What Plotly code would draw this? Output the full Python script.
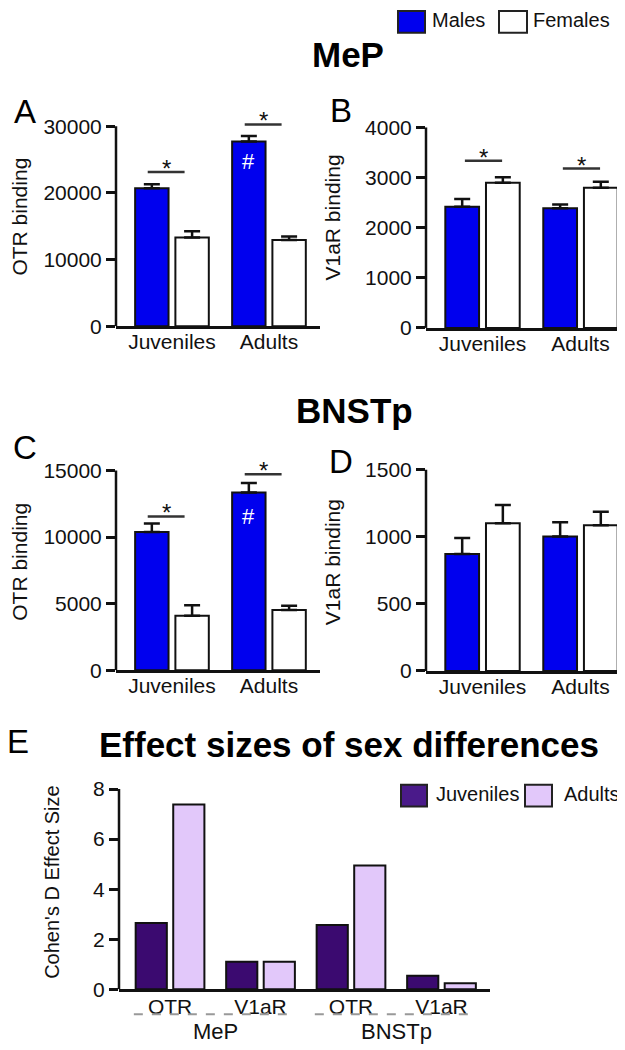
import plotly.graph_objects as go

# ---------------- data ----------------
groups = ["Juveniles", "Adults"]

# A: MeP OTR binding
a_males = [20700, 27700]
a_males_err = [600, 850]
a_females = [13300, 12950]
a_females_err = [950, 500]
a_sig = [23150, 30270]

# B: MeP V1aR binding
b_males = [2420, 2390]
b_males_err = [150, 75]
b_females = [2895, 2795]
b_females_err = [110, 120]
b_sig = [3337, 3179]

# C: BNSTp OTR binding
c_males = [10370, 13350]
c_males_err = [650, 700]
c_females = [4090, 4520]
c_females_err = [800, 320]
c_sig = [11550, 14703]

# D: BNSTp V1aR binding
d_males = [873, 1003]
d_males_err = [118, 105]
d_females = [1102, 1087]
d_females_err = [135, 100]

# E: effect sizes
e_receptors = ["OTR", "V1aR", "OTR", "V1aR"]
e_regions = ["MeP", "BNSTp"]
e_juveniles = [2.65, 1.1, 2.57, 0.54]
e_adults = [7.38, 1.1, 4.95, 0.24]

# ---------------- style ----------------
W, H = 625, 1050
FONT = "Liberation Sans"
INK = "#111111"
BLUE = "#0000ee"
PURPLE = "#3b0a70"
LAVENDER = "#e2c8fa"


def fx(px):
    return px / W


def fy(py):
    return 1 - py / H


fig = go.Figure()
shapes = []
annotations = []
layout_axes = {}


def bar_panel(n, males, males_err, females, females_err, xdom, ydom, yrange,
              tickvals, axis_top, ytitle, standoff, sig=None, sig_off=(-0.25, 0.13),
              hash_y=None):
    xa = "x" if n == 1 else f"x{n}"
    ya = "y" if n == 1 else f"y{n}"
    for vals, errs, col in ((males, males_err, BLUE), (females, females_err, "white")):
        fig.add_trace(go.Bar(
            x=groups, y=vals, xaxis=xa, yaxis=ya, showlegend=False,
            marker=dict(color=col, line=dict(color=INK, width=2)),
            error_y=dict(type="data", array=errs, arrayminus=[0] * len(errs),
                         symmetric=False, color=INK, thickness=2.5, width=8),
        ))
    key = "" if n == 1 else str(n)
    layout_axes["xaxis" + key] = dict(
        domain=[fx(xdom[0]), fx(xdom[1])], anchor=ya, range=[-0.577, 1.526],
        showline=True, linecolor=INK, linewidth=2.5, ticks="", showgrid=False,
        zeroline=False, ticklabelstandoff=-5,
        tickfont=dict(family=FONT, size=21, color=INK))
    layout_axes["yaxis" + key] = dict(
        domain=[fy(ydom[0]), fy(ydom[1])], anchor=xa, range=yrange,
        showline=False, ticks="outside", ticklen=9, tickwidth=2.5, tickcolor=INK,
        tickvals=tickvals, tickformat="d", showgrid=False, zeroline=False,
        tickfont=dict(family=FONT, size=21, color=INK),
        title=dict(text=ytitle, font=dict(family=FONT, size=21, color=INK), standoff=standoff))
    shapes.append(dict(type="line", xref="paper", yref=ya, x0=fx(xdom[0]), x1=fx(xdom[0]),
                       y0=0, y1=axis_top, line=dict(color=INK, width=2.5)))
    if sig:
        for i, lvl in enumerate(sig):
            shapes.append(dict(type="line", xref=xa, yref=ya, x0=i + sig_off[0], x1=i + sig_off[1],
                               y0=lvl, y1=lvl, line=dict(color="#333333", width=2.5)))
            annotations.append(dict(x=i + (sig_off[0] + sig_off[1]) / 2, y=lvl, xref=xa, yref=ya,
                                    text="*", showarrow=False, yanchor="bottom", yshift=-12,
                                    font=dict(family=FONT, size=24, color=INK)))
    if hash_y is not None:
        annotations.append(dict(x=1 - 0.206, y=hash_y, xref=xa, yref=ya, text="#",
                                showarrow=False, yanchor="middle",
                                font=dict(family=FONT, size=22, color="white")))


bar_panel(1, a_males, a_males_err, a_females, a_females_err, (108, 312), (321.7, 100),
          [0, 32893], [0, 10000, 20000, 30000], 30000, "OTR binding", 14, sig=a_sig, hash_y=24730)
bar_panel(2, b_males, b_males_err, b_females, b_females_err, (418, 624), (323.3, 100),
          [0, 4409], [0, 1000, 2000, 3000, 4000], 4000, "V1aR binding", 18, sig=b_sig,
          sig_off=(-0.18, 0.2))
bar_panel(3, c_males, c_males_err, c_females, c_females_err, (108, 312), (669.3, 450),
          [0, 16285], [0, 5000, 10000, 15000], 15000, "OTR binding", 14, sig=c_sig, hash_y=11570)
bar_panel(4, d_males, d_males_err, d_females, d_females_err, (418, 624), (670, 450),
          [0, 1623], [0, 500, 1000, 1500], 1500, "V1aR binding", 18)

# Panel E
e_x = list(range(len(e_receptors)))
for vals, col in ((e_juveniles, PURPLE), (e_adults, LAVENDER)):
    fig.add_trace(go.Bar(x=e_x, y=vals, xaxis="x5", yaxis="y5", showlegend=False,
                         marker=dict(color=col, line=dict(color=INK, width=2))))
layout_axes["xaxis5"] = dict(
    domain=[fx(111), fx(482)], anchor="y5", range=[-0.564, 3.536],
    showline=True, linecolor=INK, linewidth=2.5, ticks="", showgrid=False, zeroline=False,
    ticklabelstandoff=-3,
    tickvals=e_x, ticktext=e_receptors, tickfont=dict(family=FONT, size=21, color=INK))
layout_axes["yaxis5"] = dict(
    domain=[fy(991.7), fy(775)], anchor="x5", range=[0, 8.565],
    showline=False, ticks="outside", ticklen=9, tickwidth=2.5, tickcolor=INK,
    tickvals=[0, 2, 4, 6, 8], showgrid=False, zeroline=False,
    tickfont=dict(family=FONT, size=21, color=INK),
    title=dict(text="Cohen's D Effect Size", font=dict(family=FONT, size=20, color=INK), standoff=28))
shapes.append(dict(type="line", xref="paper", yref="y5", x0=fx(111), x1=fx(111),
                   y0=0, y1=8, line=dict(color=INK, width=2.5)))
for i, reg in enumerate(e_regions):
    x0 = 2 * i - 0.4
    x1 = 2 * i + 1.37
    shapes.append(dict(type="line", xref="x5", yref="paper", x0=x0, x1=x1,
                       y0=fy(1017), y1=fy(1017), line=dict(color="#999999", width=2, dash="dash")))
    annotations.append(dict(x=2 * i + 0.5, y=fy(1034), xref="x5", yref="paper", text=reg,
                            showarrow=False, xanchor="center", yanchor="middle",
                            font=dict(family=FONT, size=22, color=INK)))

# Titles
for txt, x, y in (("MeP", 340, 47), ("BNSTp", 346, 407), ("Effect sizes of sex differences", 341, 744)):
    annotations.append(dict(x=fx(x), y=fy(y), xref="paper", yref="paper", text=f"<b>{txt}</b>",
                            showarrow=False, xanchor="center", yanchor="middle",
                            font=dict(family=FONT, size=35, color="black")))

# Panel letters
for txt, x, y in (("A", 17, 105), ("B", 333, 104), ("C", 17, 444), ("D", 333, 458), ("E", 10, 741)):
    annotations.append(dict(x=fx(x), y=fy(y), xref="paper", yref="paper", text=txt,
                            showarrow=False, xanchor="center", yanchor="middle",
                            font=dict(family=FONT, size=33, color="black")))

# Legends (manual swatches)
legend_items = [
    ("Males", BLUE, 390, 417, 3, 25, 422),
    ("Females", "white", 491, 519, 3, 25, 523),
    ("Juveniles", "#4a1a8a", 393, 419, 785, 807, 426),
    ("Adults", LAVENDER, 517, 544, 785, 807, 554),
]
for name, col, x0, x1, y0, y1, tx in legend_items:
    shapes.append(dict(type="rect", xref="paper", yref="paper", x0=fx(x0), x1=fx(x1),
                       y0=fy(y1), y1=fy(y0), fillcolor=col, line=dict(color="#222222", width=2)))
    annotations.append(dict(x=fx(tx), y=fy((y0 + y1) / 2 - 2), xref="paper", yref="paper", text=name,
                            xanchor="left", yanchor="middle", showarrow=False,
                            font=dict(family=FONT, size=20, color=INK)))

fig.update_layout(
    width=W, height=H, margin=dict(l=0, r=0, t=0, b=0),
    paper_bgcolor="white", plot_bgcolor="white",
    barmode="group", bargap=0.17, bargroupgap=0.17,
    shapes=shapes, annotations=annotations, showlegend=False,
    font=dict(family=FONT, color=INK),
    **layout_axes,
)

fig.write_html("out.html")
